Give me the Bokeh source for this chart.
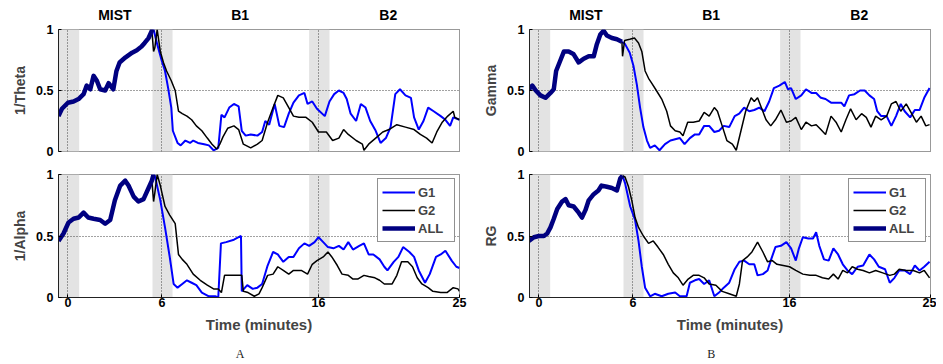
from bokeh.plotting import figure
from bokeh.models import Range1d, FixedTicker, LinearAxis, Legend, LegendItem, Spacer
from bokeh.layouts import row, column
from bokeh.embed import file_html
from bokeh.resources import INLINE

# ---------------- data ----------------
x_ticks = [0, 6, 16, 25]
x_grid_ticks = [0, 6, 16]
y_ticks = [0, 0.5, 1]
y_tick_labels = ["0", "0.5", "1"]
phase_names = ["MIST", "B1", "B2"]
phase_centers = [3.0, 11.0, 20.45]
band_starts = [-0.6, 5.4, 15.4]
band_ends = [0.72, 6.68, 16.7]
panel_letters = ["A", "B"]
letter_pos = 11.0
series_names = ["G1", "G2", "ALL"]
x_label = "Time (minutes)"
y_labels = ["1/Theta", "1/Alpha", "Gamma", "RG"]

# Panel A top: 1/Theta
theta_all_t = [-0.6, -0.38, 0, 0.36, 0.68, 1.0, 1.2, 1.43, 1.64, 1.85, 2.06, 2.38, 2.6, 2.9, 3.1, 3.3, 3.66, 4.1, 4.4, 4.7, 4.9, 5.15, 5.36, 5.47]
theta_all_v = [0.29, 0.35, 0.40, 0.41, 0.43, 0.47, 0.54, 0.51, 0.62, 0.58, 0.51, 0.50, 0.56, 0.51, 0.66, 0.73, 0.77, 0.81, 0.83, 0.86, 0.89, 0.93, 0.99, 1.0]
theta_g2_t = [5.36, 5.47, 5.55, 5.7, 5.9, 6.1, 6.3, 6.6, 6.85, 7.06, 7.3, 7.6, 7.9, 8.2, 8.55, 8.9, 9.2, 9.5, 9.7, 9.9, 10.2, 10.6, 10.9, 11.2, 11.67, 12.1, 12.4, 12.75, 13.1, 13.4, 13.75, 14.1, 14.4, 14.75, 15.2, 15.6, 16.0, 16.5, 16.9, 17.3, 17.6, 17.9, 18.4, 18.8, 18.9, 19.2, 19.65, 20.1, 20.5, 21.0, 21.55, 22.1, 22.5, 22.9, 23.25, 23.55, 23.9, 24.25, 24.6, 24.7, 25.0]
theta_g2_v = [0.99, 0.82, 0.85, 1.0, 0.82, 0.73, 0.66, 0.58, 0.50, 0.33, 0.31, 0.29, 0.26, 0.21, 0.17, 0.11, 0.06, 0.02, 0.06, 0.12, 0.19, 0.21, 0.18, 0.06, 0.03, 0.06, 0.09, 0.24, 0.36, 0.46, 0.44, 0.36, 0.29, 0.28, 0.28, 0.24, 0.16, 0.16, 0.09, 0.11, 0.18, 0.14, 0.09, 0.06, 0.01, 0.06, 0.11, 0.16, 0.18, 0.22, 0.20, 0.18, 0.14, 0.11, 0.07, 0.16, 0.24, 0.29, 0.33, 0.28, 0.26]
theta_g1_t = [5.47, 5.7, 6.0, 6.2, 6.4, 6.6, 6.7, 7.0, 7.2, 7.5, 7.8, 8.0, 8.3, 8.7, 9.0, 9.3, 9.6, 9.8, 10.0, 10.3, 10.6, 10.9, 11.1, 11.35, 11.67, 12.1, 12.4, 12.6, 12.85, 13.2, 13.5, 13.8, 14.1, 14.4, 14.75, 15.1, 15.3, 15.6, 15.9, 16.4, 16.7, 17.0, 17.3, 17.6, 17.8, 18.05, 18.4, 18.7, 19.0, 19.3, 19.65, 19.96, 20.3, 20.6, 20.9, 21.2, 21.55, 21.9, 22.1, 22.4, 22.7, 23.0, 23.35, 23.8, 24.1, 24.4, 24.6, 25.0]
theta_g1_v = [1.0, 0.88, 0.74, 0.66, 0.52, 0.36, 0.17, 0.07, 0.05, 0.09, 0.07, 0.09, 0.07, 0.06, 0.05, 0.01, 0.03, 0.30, 0.28, 0.36, 0.39, 0.37, 0.17, 0.13, 0.14, 0.13, 0.16, 0.25, 0.22, 0.39, 0.21, 0.20, 0.31, 0.40, 0.46, 0.48, 0.39, 0.41, 0.35, 0.29, 0.41, 0.47, 0.50, 0.48, 0.43, 0.31, 0.25, 0.39, 0.36, 0.25, 0.17, 0.07, 0.11, 0.20, 0.47, 0.51, 0.46, 0.44, 0.28, 0.18, 0.25, 0.36, 0.33, 0.29, 0.26, 0.21, 0.28, 0.26]

# Panel A bottom: 1/Alpha
alpha_all_t = [-0.6, -0.28, 0.04, 0.36, 0.68, 1.0, 1.3, 1.64, 2.06, 2.38, 2.7, 3.0, 3.34, 3.66, 3.87, 4.2, 4.5, 4.83, 5.15, 5.36, 5.47]
alpha_all_v = [0.46, 0.52, 0.61, 0.64, 0.65, 0.69, 0.65, 0.64, 0.63, 0.60, 0.63, 0.79, 0.91, 0.95, 0.91, 0.82, 0.78, 0.80, 0.89, 0.95, 1.0]
alpha_g2_t = [5.36, 5.47, 5.55, 5.7, 5.9, 6.2, 6.5, 6.85, 7.06, 7.3, 7.6, 8.0, 8.45, 8.9, 9.3, 9.6, 9.8, 10.0, 10.6, 11.1, 11.2, 11.5, 11.9, 12.2, 12.4, 12.75, 13.1, 13.4, 13.75, 14.1, 14.4, 14.9, 15.3, 15.6, 15.9, 16.3, 16.6, 16.85, 17.2, 17.5, 17.9, 18.2, 18.5, 18.9, 19.2, 19.6, 19.9, 20.2, 20.7, 21.0, 21.3, 21.7, 22.0, 22.3, 22.6, 23.0, 23.3, 23.8, 24.2, 24.6, 24.9, 25.0]
alpha_g2_v = [0.95, 0.78, 0.85, 1.0, 0.91, 0.74, 0.67, 0.60, 0.35, 0.31, 0.27, 0.19, 0.14, 0.10, 0.07, 0.07, 0.04, 0.18, 0.18, 0.18, 0.05, 0.04, 0.01, 0.03, 0.08, 0.18, 0.19, 0.25, 0.22, 0.19, 0.22, 0.22, 0.19, 0.27, 0.30, 0.33, 0.37, 0.33, 0.26, 0.19, 0.18, 0.15, 0.15, 0.18, 0.17, 0.16, 0.14, 0.11, 0.11, 0.18, 0.29, 0.29, 0.25, 0.16, 0.11, 0.08, 0.05, 0.04, 0.04, 0.08, 0.07, 0.05]
alpha_g1_t = [5.47, 5.57, 5.9, 6.2, 6.5, 6.75, 7.0, 7.3, 7.6, 7.9, 8.2, 8.55, 9.0, 9.4, 9.6, 9.77, 10.1, 10.6, 10.9, 11.05, 11.1, 11.45, 11.8, 12.1, 12.4, 12.75, 13.1, 13.4, 13.75, 14.1, 14.4, 14.75, 15.1, 15.4, 15.75, 16.0, 16.3, 16.6, 16.95, 17.3, 17.6, 17.9, 18.2, 18.6, 18.9, 19.2, 19.5, 19.9, 20.2, 20.4, 20.8, 21.1, 21.4, 21.8, 22.1, 22.4, 22.8, 23.1, 23.5, 23.8, 24.1, 24.5, 24.8, 25.0]
alpha_g1_v = [1.0, 0.98, 0.79, 0.57, 0.33, 0.11, 0.08, 0.11, 0.14, 0.12, 0.10, 0.04, 0.01, 0.01, 0.0, 0.44, 0.45, 0.47, 0.49, 0.50, 0.05, 0.10, 0.07, 0.08, 0.11, 0.26, 0.37, 0.35, 0.29, 0.33, 0.33, 0.40, 0.44, 0.42, 0.45, 0.49, 0.45, 0.41, 0.40, 0.42, 0.39, 0.45, 0.39, 0.42, 0.44, 0.35, 0.35, 0.31, 0.25, 0.22, 0.29, 0.33, 0.41, 0.37, 0.33, 0.22, 0.12, 0.19, 0.33, 0.35, 0.38, 0.30, 0.25, 0.24]

# Panel B top: Gamma
gamma_all_t = [-0.64, -0.42, -0.2, 0.1, 0.42, 0.74, 0.95, 1.1, 1.38, 1.6, 1.9, 2.2, 2.54, 2.86, 3.18, 3.5, 3.7, 3.92, 4.13, 4.34, 4.66, 4.98, 5.3]
gamma_all_v = [0.51, 0.54, 0.50, 0.46, 0.44, 0.48, 0.51, 0.66, 0.75, 0.82, 0.82, 0.80, 0.73, 0.76, 0.78, 0.78, 0.88, 0.96, 0.99, 0.95, 0.93, 0.92, 0.90]
gamma_g2_t = [5.3, 5.34, 5.47, 5.8, 6.1, 6.36, 6.57, 6.78, 7.0, 7.2, 7.5, 7.84, 8.16, 8.4, 8.7, 9.0, 9.2, 9.5, 9.85, 10.23, 10.55, 10.87, 11.2, 11.4, 11.7, 12.0, 12.35, 12.6, 12.9, 13.2, 13.55, 13.75, 13.96, 14.2, 14.5, 14.8, 15.1, 15.45, 15.8, 16.1, 16.4, 16.75, 17.05, 17.4, 17.7, 18.0, 18.3, 18.65, 18.97, 19.3, 19.6, 19.9, 20.25, 20.6, 20.9, 21.2, 21.5, 21.85, 22.2, 22.5, 22.8, 23.1, 23.45, 23.8, 24.1, 24.4, 24.7, 24.94]
gamma_g2_v = [0.90, 0.78, 0.91, 0.92, 0.93, 0.89, 0.82, 0.66, 0.60, 0.56, 0.50, 0.43, 0.33, 0.21, 0.17, 0.16, 0.13, 0.24, 0.24, 0.25, 0.32, 0.29, 0.36, 0.33, 0.21, 0.09, 0.06, 0.01, 0.17, 0.33, 0.44, 0.41, 0.44, 0.36, 0.26, 0.21, 0.26, 0.34, 0.24, 0.25, 0.28, 0.18, 0.24, 0.21, 0.22, 0.18, 0.14, 0.29, 0.24, 0.16, 0.26, 0.35, 0.26, 0.31, 0.28, 0.20, 0.29, 0.26, 0.29, 0.39, 0.41, 0.33, 0.39, 0.31, 0.24, 0.29, 0.21, 0.22]
gamma_g1_t = [5.3, 5.5, 5.8, 6.04, 6.25, 6.46, 6.67, 6.9, 7.1, 7.4, 7.7, 8.05, 8.4, 8.7, 9.0, 9.3, 9.64, 9.96, 10.23, 10.55, 10.87, 11.2, 11.5, 11.8, 12.15, 12.5, 12.79, 13.1, 13.43, 13.75, 14.07, 14.4, 14.7, 15.0, 15.35, 15.7, 15.9, 16.1, 16.4, 16.75, 17.05, 17.4, 17.7, 18.0, 18.3, 18.65, 18.97, 19.3, 19.5, 19.8, 20.15, 20.5, 20.8, 21.1, 21.4, 21.6, 21.85, 22.2, 22.5, 22.8, 23.1, 23.35, 23.7, 24.0, 24.3, 24.6, 24.94]
gamma_g1_v = [0.90, 0.88, 0.81, 0.70, 0.55, 0.36, 0.20, 0.09, 0.03, 0.05, 0.01, 0.06, 0.09, 0.10, 0.11, 0.06, 0.11, 0.14, 0.14, 0.21, 0.21, 0.16, 0.17, 0.21, 0.20, 0.29, 0.31, 0.36, 0.33, 0.34, 0.36, 0.33, 0.41, 0.52, 0.54, 0.57, 0.51, 0.52, 0.43, 0.46, 0.51, 0.48, 0.48, 0.44, 0.43, 0.40, 0.40, 0.40, 0.37, 0.46, 0.47, 0.50, 0.50, 0.46, 0.43, 0.33, 0.29, 0.29, 0.21, 0.29, 0.39, 0.33, 0.28, 0.34, 0.34, 0.44, 0.52]

# Panel B bottom: RG
rg_all_t = [-0.64, -0.32, 0, 0.32, 0.53, 0.74, 0.95, 1.17, 1.48, 1.7, 1.9, 2.22, 2.54, 2.75, 2.97, 3.18, 3.5, 3.8, 4.0, 4.34, 4.66, 4.98, 5.2, 5.34]
rg_all_v = [0.46, 0.49, 0.50, 0.50, 0.52, 0.57, 0.64, 0.72, 0.78, 0.80, 0.75, 0.74, 0.69, 0.65, 0.71, 0.79, 0.84, 0.87, 0.91, 0.90, 0.89, 0.87, 0.97, 0.99]
rg_g2_t = [5.34, 5.5, 5.72, 5.93, 6.14, 6.36, 6.67, 7.0, 7.3, 7.6, 7.94, 8.26, 8.58, 8.9, 9.2, 9.53, 9.85, 10.23, 10.55, 10.87, 11.3, 11.7, 12.15, 12.6, 12.8, 13.0, 13.3, 13.6, 13.96, 14.3, 14.6, 14.9, 15.2, 15.6, 16.0, 16.4, 16.85, 17.3, 17.7, 18.1, 18.5, 18.8, 19.1, 19.4, 19.7, 20.0, 20.35, 20.7, 21.1, 21.5, 21.95, 22.4, 22.7, 23.0, 23.45, 23.9, 24.3, 24.6, 24.94]
rg_g2_v = [0.99, 0.98, 0.90, 0.79, 0.65, 0.57, 0.50, 0.44, 0.46, 0.41, 0.35, 0.27, 0.20, 0.16, 0.10, 0.15, 0.18, 0.18, 0.16, 0.11, 0.10, 0.05, 0.03, 0.01, 0.11, 0.30, 0.33, 0.37, 0.45, 0.37, 0.29, 0.30, 0.27, 0.26, 0.25, 0.22, 0.19, 0.18, 0.18, 0.16, 0.15, 0.19, 0.15, 0.22, 0.20, 0.25, 0.23, 0.22, 0.20, 0.22, 0.20, 0.18, 0.19, 0.23, 0.22, 0.22, 0.20, 0.22, 0.16]
rg_g1_t = [5.34, 5.5, 5.83, 6.14, 6.36, 6.57, 6.78, 7.1, 7.4, 7.84, 8.26, 8.7, 9.0, 9.43, 9.64, 9.96, 10.23, 10.55, 10.87, 11.2, 11.5, 11.8, 12.15, 12.5, 12.8, 13.1, 13.43, 13.75, 13.96, 14.3, 14.6, 14.8, 15.1, 15.45, 15.8, 16.1, 16.4, 16.6, 16.85, 17.2, 17.5, 17.7, 17.9, 18.2, 18.5, 18.8, 19.1, 19.4, 19.7, 20.0, 20.35, 20.7, 21.1, 21.4, 21.7, 22.1, 22.4, 22.7, 23.0, 23.35, 23.7, 24.0, 24.3, 24.6, 24.94]
rg_g1_v = [0.99, 0.93, 0.74, 0.63, 0.46, 0.25, 0.08, 0.01, 0.03, 0.01, 0.03, 0.04, 0.01, 0.01, 0.12, 0.14, 0.15, 0.11, 0.14, 0.01, 0.04, 0.08, 0.12, 0.23, 0.29, 0.30, 0.27, 0.27, 0.18, 0.19, 0.22, 0.30, 0.41, 0.42, 0.45, 0.40, 0.30, 0.40, 0.49, 0.48, 0.48, 0.53, 0.42, 0.31, 0.30, 0.40, 0.35, 0.27, 0.22, 0.19, 0.25, 0.26, 0.35, 0.31, 0.25, 0.23, 0.12, 0.16, 0.22, 0.22, 0.19, 0.26, 0.22, 0.25, 0.29]

# ---------------- style ----------------
FONT = "Liberation Sans"
SERIF = "Liberation Serif"
C_G1 = "#0000ff"
C_G2 = "#000000"
C_ALL = "#000080"
BAND = "#e3e3e3"
FRAME_W = 401
FRAME_H = 122


def make_panel(ylabel, all_t, all_v, g1_t, g1_v, g2_t, g2_v, top, border_right, letter):
    p = figure(frame_width=FRAME_W, frame_height=FRAME_H + (0 if top else 1),
               x_range=Range1d(-0.6, 25), y_range=Range1d(0, 1),
               x_axis_location=None if top else "below", y_axis_location="left",
               output_backend="svg", toolbar_location=None,
               min_border_left=10, min_border_right=border_right,
               min_border_top=12, min_border_bottom=11 if top else 40,
               background_fill_color="white", border_fill_color="white")
    p.outline_line_color = "#333333"
    p.outline_line_width = 1
    p.outline_line_dash = "1 1"

    # grey phase bands
    p.quad(left=band_starts, right=band_ends, bottom=[0] * len(band_starts),
           top=[1] * len(band_starts), fill_color=BAND, line_color=None, level="image")

    # grids
    p.xgrid.ticker = FixedTicker(ticks=x_grid_ticks)
    p.ygrid.ticker = FixedTicker(ticks=[0.5])
    for g in (p.xgrid, p.ygrid):
        g.grid_line_color = "#444444"
        g.grid_line_dash = "1 2"
        g.grid_line_width = 1

    # y axis
    ya = p.yaxis[0]
    ya.ticker = FixedTicker(ticks=y_ticks)
    ya.major_label_overrides = {t: s for t, s in zip(y_ticks, y_tick_labels)}
    ya.axis_label = ylabel
    ya.axis_line_color = "#222222"
    ya.major_tick_in = 3
    ya.major_tick_out = 0
    ya.minor_tick_line_color = None
    ya.major_label_standoff = 5
    ya.major_label_text_font = FONT
    ya.major_label_text_font_style = "bold"
    ya.major_label_text_font_size = "12.5px"
    ya.major_label_text_color = "black"
    ya.axis_label_text_font = FONT
    ya.axis_label_text_font_style = "bold"
    ya.axis_label_text_font_size = "14px"
    ya.axis_label_standoff = 5

    if top:
        pa = LinearAxis(ticker=FixedTicker(ticks=phase_centers),
                        major_label_overrides={c: n for c, n in zip(phase_centers, phase_names)},
                        axis_line_color=None, major_tick_line_color=None, minor_tick_line_color=None,
                        major_label_standoff=1, major_label_text_font=FONT,
                        major_label_text_font_style="bold", major_label_text_font_size="14px",
                        major_label_text_color="black")
        p.add_layout(pa, "above")
    else:
        xa = p.xaxis[0]
        xa.ticker = FixedTicker(ticks=x_ticks)
        xa.axis_line_color = "#222222"
        xa.major_tick_in = 3
        xa.major_tick_out = 0
        xa.minor_tick_line_color = None
        xa.major_label_standoff = 0
        xa.major_label_text_font = FONT
        xa.major_label_text_font_style = "bold"
        xa.major_label_text_font_size = "12.5px"
        xa.major_label_text_color = "black"
        xa.axis_label = x_label
        xa.axis_label_text_font = FONT
        xa.axis_label_text_font_style = "bold"
        xa.axis_label_text_font_size = "15px"
        xa.axis_label_standoff = 6
        la = LinearAxis(ticker=FixedTicker(ticks=[letter_pos]),
                        major_label_overrides={letter_pos: letter},
                        axis_line_color=None, major_tick_line_color=None, minor_tick_line_color=None,
                        major_label_standoff=5, major_label_text_font=SERIF,
                        major_label_text_font_style="normal", major_label_text_font_size="12px",
                        major_label_text_color="#222222")
        p.add_layout(la, "below")

    r1 = p.line(g1_t, g1_v, line_color=C_G1, line_width=2)
    r2 = p.line(g2_t, g2_v, line_color=C_G2, line_width=1.5)
    r3 = p.line(all_t, all_v, line_color=C_ALL, line_width=4.5, line_join="round")

    if not top:
        legend = Legend(items=[LegendItem(label=series_names[0], renderers=[r1]),
                               LegendItem(label=series_names[1], renderers=[r2]),
                               LegendItem(label=series_names[2], renderers=[r3])],
                        location="top_right")
        legend.margin = 4
        legend.padding = 4
        legend.spacing = 0
        legend.glyph_width = 33
        legend.glyph_height = 18
        legend.label_standoff = 3
        legend.label_height = 18
        legend.label_width = 32
        legend.label_text_font = FONT
        legend.label_text_font_style = "bold"
        legend.label_text_font_size = "13px"
        legend.border_line_color = "#222222"
        legend.border_line_width = 1
        legend.background_fill_color = "white"
        legend.background_fill_alpha = 1
        p.add_layout(legend)
    return p


pA1 = make_panel(y_labels[0], theta_all_t, theta_all_v, theta_g1_t, theta_g1_v, theta_g2_t, theta_g2_v, True, 21, None)
pA2 = make_panel(y_labels[1], alpha_all_t, alpha_all_v, alpha_g1_t, alpha_g1_v, alpha_g2_t, alpha_g2_v, False, 21, panel_letters[0])
pB1 = make_panel(y_labels[2], gamma_all_t, gamma_all_v, gamma_g1_t, gamma_g1_v, gamma_g2_t, gamma_g2_v, True, 6, None)
pB2 = make_panel(y_labels[3], rg_all_t, rg_all_v, rg_g1_t, rg_g1_v, rg_g2_t, rg_g2_v, False, 6, panel_letters[1])

layout = row(Spacer(width=9),
             column(Spacer(height=3), pA1, pA2),
             column(Spacer(height=3), pB1, pB2))

open("out.html", "w").write(file_html(layout, INLINE))
